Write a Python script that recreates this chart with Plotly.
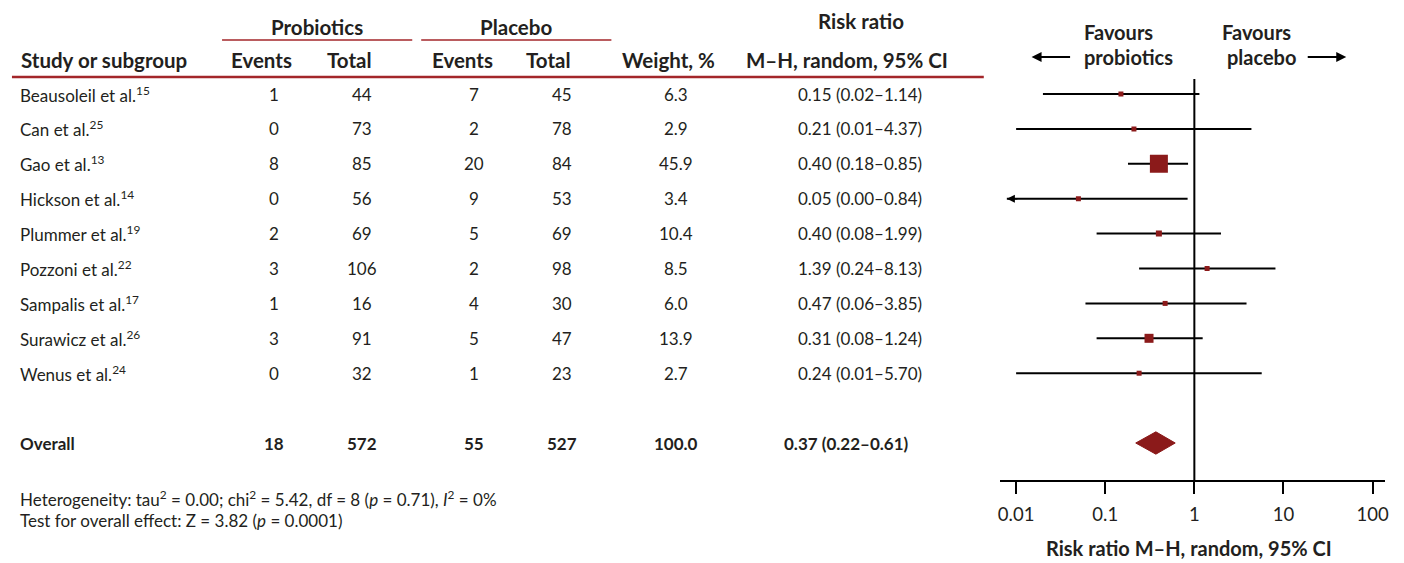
import math
import plotly.graph_objects as go

# ---------------- data ----------------
studies = ["Beausoleil et al.", "Can et al.", "Gao et al.", "Hickson et al.", "Plummer et al.",
           "Pozzoni et al.", "Sampalis et al.", "Surawicz et al.", "Wenus et al."]
refs = ["15", "25", "13", "14", "19", "22", "17", "26", "24"]
ev_pro = [1, 0, 8, 0, 2, 3, 1, 3, 0]
tot_pro = [44, 73, 85, 56, 69, 106, 16, 91, 32]
ev_pla = [7, 2, 20, 9, 5, 2, 4, 5, 1]
tot_pla = [45, 78, 84, 53, 69, 98, 30, 47, 23]
weight = [6.3, 2.9, 45.9, 3.4, 10.4, 8.5, 6.0, 13.9, 2.7]
rr = [0.15, 0.21, 0.40, 0.05, 0.40, 1.39, 0.47, 0.31, 0.24]
ci_lo = [0.02, 0.01, 0.18, 0.00, 0.08, 0.24, 0.06, 0.08, 0.01]
ci_hi = [1.14, 4.37, 0.85, 0.84, 1.99, 8.13, 3.85, 1.24, 5.70]

overall_label = "Overall"
overall_counts = [18, 572, 55, 527]
overall_weight = 100.0
overall_rr, overall_lo, overall_hi = 0.37, 0.22, 0.61

tick_vals = [0.01, 0.1, 1, 10, 100]
tick_text = ["0.01", "0.1", "1", "10", "100"]

# ---------------- style ----------------
W, H = 1404, 563
TXT = "#231f20"
RED_LINE = "#a3262a"
SQ = "#8b1a1a"
FONT = "Lato"
BODY = 17
HEAD = 20.5
marker_px = [5, 5, 18, 5, 6, 5, 5, 9, 5]

def px(x):
    return x / W

def py(y):
    return 1 - y / H

x_range = [-2.184, 2.140]
y_range = [11.06, -0.43]
overall_row = len(studies) + 1

fig = go.Figure()

# vertical line of no effect
fig.add_trace(go.Scatter(x=[1, 1], y=[y_range[1], y_range[0]], mode="lines",
                         line=dict(color="black", width=2), hoverinfo="skip", cliponaxis=False))

clip_lo = 10 ** (x_range[0] + 0.08)
for i in range(len(studies)):
    lo = ci_lo[i] if ci_lo[i] > 0 else clip_lo
    fig.add_trace(go.Scatter(x=[lo, ci_hi[i]], y=[i, i], mode="lines",
                             line=dict(color="black", width=2), hoverinfo="skip"))
    if ci_lo[i] <= 0:
        fig.add_annotation(x=math.log10(clip_lo), y=i, xref="x", yref="y", text="",
                           showarrow=True, ax=12, ay=0, arrowhead=2, arrowsize=1,
                           arrowwidth=1.6, arrowcolor="black")

fig.add_trace(go.Scatter(x=rr, y=list(range(len(studies))), mode="markers",
                         marker=dict(symbol="square", size=marker_px, color=SQ, opacity=1,
                                     line=dict(width=0)), hoverinfo="skip"))

# overall diamond
h = 0.32
fig.add_trace(go.Scatter(x=[overall_lo, overall_rr, overall_hi, overall_rr, overall_lo],
                         y=[overall_row, overall_row - h, overall_row, overall_row + h, overall_row],
                         mode="lines", fill="toself", fillcolor=SQ, line=dict(color=SQ, width=1),
                         hoverinfo="skip"))

# ---------------- table ----------------
def ann(x, y, text, bold=False, size=BODY, xanchor="center", yref="y"):
    t = f"<b>{text}</b>" if bold else text
    fig.add_annotation(x=px(x), y=(y if yref == "y" else py(y)), xref="paper", yref=yref,
                       text=t, showarrow=False, xanchor=xanchor, yanchor="middle",
                       font=dict(family=FONT, size=size, color=TXT))

cols = [273, 362, 474, 562, 677, 862]
for i, s in enumerate(studies):
    ann(16, i, f"{s}<sup>{refs[i]}</sup>", xanchor="left")
    vals = [str(ev_pro[i]), str(tot_pro[i]), str(ev_pla[i]), str(tot_pla[i]),
            f"{weight[i]:.1f}", f"{rr[i]:.2f} ({ci_lo[i]:.2f}–{ci_hi[i]:.2f})"]
    for c, v in zip(cols, vals):
        ann(c, i, v)

ann(16, overall_row, overall_label, bold=True, xanchor="left")
ov = [str(v) for v in overall_counts] + [f"{overall_weight:.1f}",
      f"{overall_rr:.2f} ({overall_lo:.2f}–{overall_hi:.2f})"]
for c, v in zip(cols[:5] + [848], ov):
    ann(c, overall_row, v, bold=True)

# headers
ann(316, 27, "Probiotics", bold=True, size=HEAD, yref="paper")
ann(516, 27, "Placebo", bold=True, size=HEAD, yref="paper")
ann(863, 21, "Risk ratio", bold=True, size=HEAD, yref="paper")
hdr = [(17, "Study or subgroup", "left"), (261, "Events", "center"), (349, "Total", "center"),
       (462, "Events", "center"), (549, "Total", "center"), (669, "Weight, %", "center"),
       (849, "M–H, random, 95% CI", "center")]
for x, t, a in hdr:
    ann(x, 60, t, bold=True, size=HEAD, xanchor=a, yref="paper")

shapes = [
    dict(type="line", xref="paper", yref="paper", x0=px(221), x1=px(412), y0=py(40), y1=py(40),
         line=dict(color=RED_LINE, width=1.3)),
    dict(type="line", xref="paper", yref="paper", x0=px(421), x1=px(612), y0=py(40), y1=py(40),
         line=dict(color=RED_LINE, width=1.3)),
    dict(type="line", xref="paper", yref="paper", x0=px(10), x1=px(986), y0=py(77), y1=py(77),
         line=dict(color=RED_LINE, width=2.5)),
]

# footnotes
fig.add_annotation(x=px(16), y=py(512), xref="paper", yref="paper", showarrow=False, xanchor="left",
                   text="Heterogeneity: tau<sup>2</sup> = 0.00; chi<sup>2</sup> = 5.42, df = 8 (<i>p</i> = 0.71), <i>I</i><sup>2</sup> = 0%",
                   font=dict(family=FONT, size=17, color=TXT))
fig.add_annotation(x=px(16), y=py(533), xref="paper", yref="paper", showarrow=False, xanchor="left",
                   text="Test for overall effect: Z = 3.82 (<i>p</i> = 0.0001)",
                   font=dict(family=FONT, size=17, color=TXT))

# favours labels
for x, y, t in [(1085, 32, "Favours"), (1085, 57, "probiotics"),
                (1223, 32, "Favours"), (1228, 57, "placebo")]:
    ann(x, y, t, bold=True, size=20, xanchor="left", yref="paper")
fig.add_annotation(x=px(1034), y=py(57), xref="paper", yref="paper", text="", showarrow=True,
                   ax=40, ay=0, arrowhead=2, arrowwidth=2, arrowcolor="black")
fig.add_annotation(x=px(1350), y=py(57), xref="paper", yref="paper", text="", showarrow=True,
                   ax=-40, ay=0, arrowhead=2, arrowwidth=2, arrowcolor="black")

# axis title
ann(1192, 548, "Risk ratio M–H, random, 95% CI", bold=True, size=20, yref="paper")

fig.update_layout(
    width=W, height=H, margin=dict(l=0, r=0, t=0, b=0),
    paper_bgcolor="white", plot_bgcolor="white", showlegend=False,
    shapes=shapes,
    xaxis=dict(type="log", domain=[px(1002), px(1389)], range=x_range, showgrid=False,
               zeroline=False, showline=True, linecolor="black", linewidth=2,
               ticks="outside", ticklen=12, tickwidth=2, tickcolor="black",
               tickvals=tick_vals, ticktext=tick_text, ticklabelstandoff=5,
               tickfont=dict(family=FONT, size=18.5, color=TXT)),
    yaxis=dict(domain=[py(480), py(79)], range=y_range, visible=False, showgrid=False,
               zeroline=False),
)

fig.write_html("out.html", config={"displayModeBar": False},
               post_script="document.body.style.margin='0';document.body.style.overflow='hidden';")
